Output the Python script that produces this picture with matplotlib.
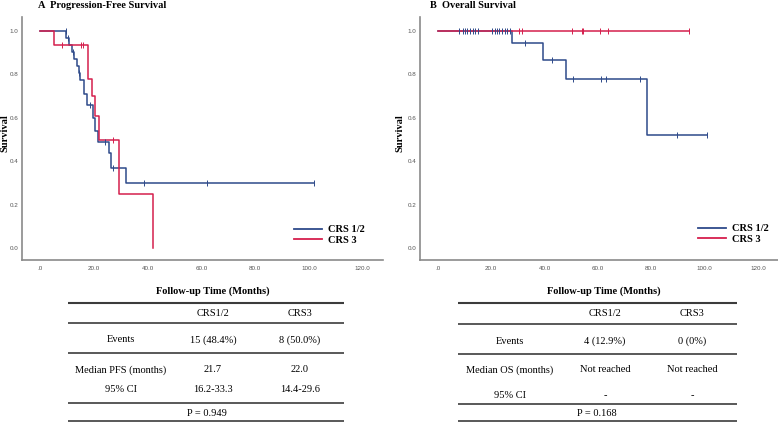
import numpy as np
import matplotlib
matplotlib.use("Agg")
import matplotlib.pyplot as plt
from matplotlib.lines import Line2D

# ---- Progression-free survival (months, survival level after each step) ----
pfs_crs12_t = [0, 9.8, 10.6, 12.0, 12.8, 13.6, 14.4, 15.0, 16.5, 17.6, 19.8, 20.4, 21.7, 25.5, 26.4, 31.8, 102.0]
pfs_crs12_s = [1.0, 0.968, 0.935, 0.903, 0.871, 0.839, 0.806, 0.774, 0.71, 0.66, 0.60, 0.54, 0.49, 0.44, 0.37, 0.30, 0.30]
pfs_crs12_cens = [9.5, 10.5, 12.3, 14.6, 18.5, 24.0, 27.0, 38.5, 62.0, 102.0]

pfs_crs3_t = [0, 5.2, 18.0, 19.4, 20.6, 22.0, 29.5, 42.0]
pfs_crs3_s = [1.0, 0.9375, 0.78, 0.70, 0.61, 0.50, 0.25, 0.0]
pfs_crs3_cens = [8.2, 15.2, 16.0, 27.3]

# ---- Overall survival ----
os_crs12_t = [0, 27.8, 39.3, 48.1, 78.5, 101.0]
os_crs12_s = [1.0, 0.944, 0.865, 0.78, 0.52, 0.52]
os_crs12_cens = [8.1, 9.3, 10.0, 11.1, 11.9, 13.0, 14.1, 15.2, 20.4, 21.5, 22.2, 23.0,
                 24.1, 25.2, 25.9, 27.0, 32.6, 42.6, 50.7, 61.1, 63.0, 75.9, 89.6, 101.0]

os_crs3_t = [0, 94.1]
os_crs3_s = [1.0, 1.0]
os_crs3_cens = [30.4, 31.5, 50.4, 54.1, 54.4, 60.7, 63.7, 94.1]

xticks = [0, 20, 40, 60, 80, 100, 120]
xtick_labels = [".0", "20.0", "40.0", "60.0", "80.0", "100.0", "120.0"]
yticks = [0.0, 0.2, 0.4, 0.6, 0.8, 1.0]
ytick_labels = ["0.0", "0.2", "0.4", "0.6", "0.8", "1.0"]

series_names = ["CRS 1/2", "CRS 3"]

# summary tables under each panel
col_heads = ["", "CRS1/2", "CRS3"]
pfs_rows = [["Events", "15 (48.4%)", "8 (50.0%)"],
            ["Median PFS (months)", "21.7", "22.0"],
            ["95% CI", "16.2-33.3", "14.4-29.6"]]
pfs_p = "P = 0.949"
os_rows = [["Events", "4 (12.9%)", "0 (0%)"],
           ["Median OS (months)", "Not reached", "Not reached"],
           ["95% CI", "-", "-"]]
os_p = "P = 0.168"

BLUE = "#2e4a8a"
RED = "#d51f4d"
SERIF = "Liberation Serif"
SANS = "Liberation Sans"

W, H = 778, 423
fig = plt.figure(figsize=(W / 100, H / 100), dpi=100)


def km(ax, t, s, cens, color, z):
    ax.step(t, s, where="post", color=color, lw=1.1, zorder=z)
    idx = np.searchsorted(t, cens, side="right") - 1
    ax.plot(cens, np.array(s)[idx], ls="none", marker="|", ms=4.5, mew=0.7,
            color=color, zorder=z + 2)


def style(ax):
    ax.set_xlim(-6.7, 127.5)
    ax.set_ylim(-0.053, 1.064)
    for sp in ["top", "right"]:
        ax.spines[sp].set_visible(False)
    for sp in ["left", "bottom"]:
        ax.spines[sp].set_color("#8a8a8a")
        ax.spines[sp].set_linewidth(1.2)
    ax.set_xticks(xticks)
    ax.set_xticklabels(xtick_labels)
    ax.set_yticks(yticks)
    ax.set_yticklabels(ytick_labels)
    ax.tick_params(length=0, labelsize=4.5, labelcolor="#555555")
    ax.tick_params(axis="x", pad=4.5)
    ax.tick_params(axis="y", pad=2.7)
    for lab in ax.get_xticklabels() + ax.get_yticklabels():
        lab.set_family(SANS)


def legend(ax, x, y):
    handles = [Line2D([], [], color=BLUE, lw=1.3), Line2D([], [], color=RED, lw=1.3)]
    ax.legend(handles, series_names, loc="upper left",
              bbox_to_anchor=(x / W, 1 - y / H), bbox_transform=fig.transFigure,
              frameon=False, borderpad=0, borderaxespad=0, handlelength=2.7,
              handletextpad=0.55, labelspacing=0.15,
              prop={"family": SERIF, "weight": "bold", "size": 7.5})


bottom = 1 - 260 / H
height = (260 - 17) / H

ax1 = fig.add_axes([22 / W, bottom, (383 - 22) / W, height])
km(ax1, pfs_crs12_t, pfs_crs12_s, pfs_crs12_cens, BLUE, 2)
km(ax1, pfs_crs3_t, pfs_crs3_s, pfs_crs3_cens, RED, 3)
style(ax1)
legend(ax1, 294, 225)

ax2 = fig.add_axes([420 / W, bottom, (778 - 420) / W, height])
km(ax2, os_crs12_t, os_crs12_s, os_crs12_cens, BLUE, 2)
km(ax2, os_crs3_t, os_crs3_s, os_crs3_cens, RED, 3)
style(ax2)
legend(ax2, 698, 224)

# titles, y labels, x labels
bold = dict(family=SERIF, weight="bold", size=7.5)
fig.text(38 / W, 1 - 5 / H, "A  Progression-Free Survival", ha="left", va="center", **bold)
fig.text(430 / W, 1 - 5 / H, "B  Overall Survival", ha="left", va="center", **bold)
fig.text(5 / W, 1 - 133 / H, "Survival", rotation=90, ha="center", va="center", **bold)
fig.text(400 / W, 1 - 133 / H, "Survival", rotation=90, ha="center", va="center", **bold)

# table area in pixel coordinates
tax = fig.add_axes([0, 0, 1, 1])
tax.set_xlim(0, W)
tax.set_ylim(H, 0)
tax.axis("off")
tax.patch.set_alpha(0)


def table(x0, x1, xlab_x, col_x, line_y, row_y, rows, p_text, p_x):
    tax.text(xlab_x, 291, "Follow-up Time (Months)", ha="center", va="center", **bold)
    for i, yy in enumerate(line_y):
        tax.hlines(yy, x0, x1, color="#3c3c3c", lw=1.5 if i == 0 else 1.2)
    for cx, head in zip(col_x, col_heads):
        tax.text(cx, row_y[0], head, ha="center", va="center", family=SERIF, size=7.5)
    for yy, row in zip(row_y[1:4], rows):
        for cx, cell in zip(col_x, row):
            tax.text(cx, yy, cell, ha="center", va="center", family=SERIF, size=7.5)
    tax.text(p_x, row_y[4], p_text, ha="center", va="center", family=SERIF, size=7.5)


table(68, 344, 213, [121, 213, 300], [303, 323, 353, 403, 421.5],
      [313, 340, 370, 389, 413], pfs_rows, pfs_p, 207)
table(458, 737, 604, [510, 605, 692], [303.5, 324, 354, 404, 421.5],
      [313, 341, 370, 396, 414], os_rows, os_p, 597)

fig.savefig("out.png", dpi=100)
